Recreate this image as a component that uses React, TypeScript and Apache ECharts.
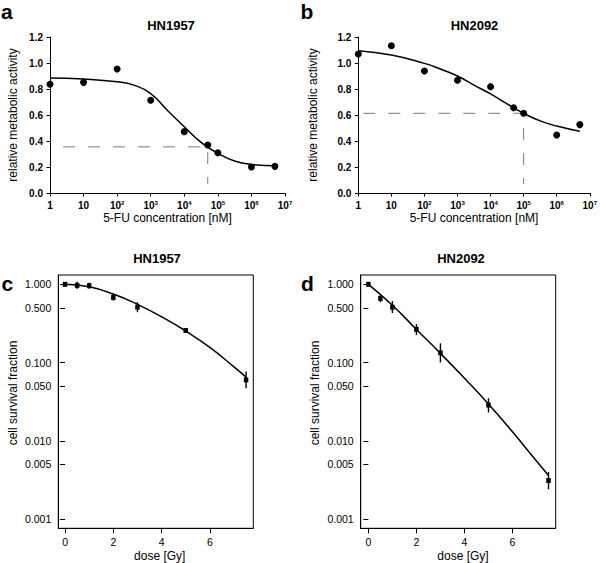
import React, { useEffect, useRef } from "react";
import * as echarts from "echarts";

// ---- data ----
const concentrations = [1, 10, 100, 1000, 10000, 50000, 100000, 1000000, 5000000];
const activityHN1957 = [0.836, 0.851, 0.954, 0.713, 0.472, 0.369, 0.31, 0.2, 0.205];
const activityHN2092 = [1.069, 1.133, 0.938, 0.867, 0.818, 0.656, 0.613, 0.446, 0.526];

const fitConc = [1, 10, 100, 316, 1000, 3160, 10000, 31600, 100000, 316000, 1000000, 5000000];
const fitHN1957 = [0.885, 0.877, 0.856, 0.83, 0.765, 0.635, 0.51, 0.39, 0.305, 0.246, 0.22, 0.21];
const fitHN2092 = [1.095, 1.062, 0.997, 0.952, 0.9, 0.83, 0.762, 0.685, 0.613, 0.555, 0.515, 0.475];

// IC guide lines: [conc, activity]
const icHN1957 = [50000, 0.355];
const icHN2092 = [100000, 0.613];
const guideBottom = 0.07;

const concTickExps = [0, 1, 2, 3, 4, 5, 6, 7];
const activityTicks = [0, 0.2, 0.4, 0.6, 0.8, 1.0, 1.2];

const doses = [0, 0.5, 1, 2, 3, 5, 7.5];
const survHN1957 = [1.0, 0.97, 0.96, 0.68, 0.51, 0.257, 0.06];
const lowHN1957 = [1.0, 0.88, 0.88, 0.62, 0.44, 0.243, 0.047];
const highHN1957 = [1.0, 1.08, 1.05, 0.75, 0.59, 0.272, 0.077];
const survHN2092 = [1.0, 0.66, 0.51, 0.265, 0.133, 0.0286, 0.0031];
const lowHN2092 = [1.0, 0.59, 0.43, 0.225, 0.1, 0.023, 0.0024];
const highHN2092 = [1.0, 0.74, 0.61, 0.31, 0.176, 0.035, 0.004];

const fitDose = [0, 1, 2, 3, 4, 5, 6, 7, 7.5];
const fitSurvHN1957 = [1.0, 0.93, 0.75, 0.555, 0.385, 0.253, 0.156, 0.088, 0.065];
const fitSurvHN2092 = [1.0, 0.54, 0.265, 0.131, 0.063, 0.0295, 0.013, 0.0055, 0.0036];

const survTicks = [1, 0.5, 0.1, 0.05, 0.01, 0.005, 0.001];
const doseTicks = [0, 2, 4, 6];

const FONT = "'Liberation Sans', Arial, Helvetica, sans-serif";
const SURV_MIN = 0.00076;
const SURV_MAX = 1.315;

function concLabel(v: number) {
  const e = Math.round(Math.log10(v));
  if (!concTickExps.includes(e)) return "";
  if (e === 0) return "1";
  if (e === 1) return "10";
  return "10{s|" + e + "}";
}

function topX(gridIndex: number) {
  return {
    type: "log",
    gridIndex,
    logBase: 10,
    min: 1,
    max: 1e7,
    interval: 1,
    name: "5-FU concentration [nM]",
    nameLocation: "middle",
    nameGap: 19,
    nameTextStyle: { fontSize: 12, color: "#000", fontFamily: FONT },
    axisLine: { show: true, onZero: false, lineStyle: { color: "#000", width: 1 } },
    axisTick: { show: true, length: 3.5, lineStyle: { color: "#000" } },
    axisLabel: {
      show: true,
      interval: 0,
      showMinLabel: true,
      showMaxLabel: true,
      margin: 7,
      fontSize: 10,
      fontWeight: "bold",
      color: "#000",
      fontFamily: FONT,
      formatter: (v: number) => concLabel(v),
      rich: { s: { fontSize: 6, fontWeight: "bold", color: "#000", verticalAlign: "top", fontFamily: FONT } },
    },
    splitLine: { show: false },
    minorTick: { show: false },
  };
}

function topY(gridIndex: number, nameGap: number) {
  return {
    type: "value",
    gridIndex,
    min: activityTicks[0],
    max: activityTicks[activityTicks.length - 1],
    interval: 0.2,
    name: "relative metabolic activity",
    nameLocation: "middle",
    nameGap,
    nameRotate: 90,
    nameTextStyle: { fontSize: 12, color: "#000", fontFamily: FONT },
    axisLine: { show: true, onZero: false, lineStyle: { color: "#000", width: 1 } },
    axisTick: { show: true, length: 3.5, lineStyle: { color: "#000" } },
    axisLabel: {
      margin: 7,
      fontSize: 10,
      fontWeight: "bold",
      color: "#000",
      fontFamily: FONT,
      formatter: (v: number) => v.toFixed(1),
    },
    splitLine: { show: false },
  };
}

function botX(gridIndex: number, min: number) {
  return {
    type: "value",
    gridIndex,
    min,
    max: 7.8,
    axisLine: { show: true, onZero: false, lineStyle: { color: "#000", width: 1 } },
    axisTick: { show: true, length: 5, customValues: doseTicks, lineStyle: { color: "#000" } },
    axisLabel: {
      customValues: doseTicks,
      margin: 8,
      fontSize: 10.5,
      color: "#000",
      fontFamily: FONT,
      formatter: (v: number) => String(v),
    },
    splitLine: { show: false },
  };
}

function botYLog(gridIndex: number) {
  return {
    type: "log",
    gridIndex,
    logBase: 10,
    min: SURV_MIN,
    max: SURV_MAX,
    position: "left",
    axisLine: { show: true, onZero: false, lineStyle: { color: "#000", width: 1 } },
    axisTick: { show: false },
    axisLabel: { show: false },
    splitLine: { show: false },
    minorTick: { show: false },
  };
}

function botYTicks(gridIndex: number) {
  const vals = survTicks.map((t) => Math.log10(t));
  return {
    type: "value",
    gridIndex,
    min: Math.log10(SURV_MIN),
    max: Math.log10(SURV_MAX),
    position: "left",
    axisLine: { show: false },
    axisTick: { show: true, length: 5, customValues: vals, lineStyle: { color: "#000" } },
    axisLabel: {
      customValues: vals,
      margin: 7,
      fontSize: 10.5,
      color: "#000",
      fontFamily: FONT,
      formatter: (v: number) => Math.pow(10, v).toFixed(3),
    },
    splitLine: { show: false },
  };
}

function errorSeries(xAxisIndex: number, yAxisIndex: number, surv: number[], low: number[], high: number[]) {
  return {
    type: "custom",
    xAxisIndex,
    yAxisIndex,
    encode: { x: 0, y: 1 },
    data: doses.map((d, i) => [d, surv[i], low[i], high[i]]),
    renderItem: (params: any, api: any) => {
      const x = api.value(0);
      const p1 = api.coord([x, api.value(2)]);
      const p2 = api.coord([x, api.value(3)]);
      return {
        type: "line",
        shape: { x1: p1[0], y1: p1[1], x2: p2[0], y2: p2[1] },
        style: { stroke: "#000", lineWidth: 1.4 },
      };
    },
    z: 3,
  };
}

function fitLine(xAxisIndex: number, yAxisIndex: number, xs: number[], ys: number[]) {
  return {
    type: "line",
    xAxisIndex,
    yAxisIndex,
    data: xs.map((x, i) => [x, ys[i]]),
    smooth: 0.5,
    showSymbol: false,
    lineStyle: { color: "#000", width: 1.5 },
    z: 2,
  };
}

function text(t: string, x: number, y: number, size: number, bold: boolean, align = "center", rotation = 0) {
  return {
    type: "text",
    x,
    y,
    rotation,
    style: {
      text: t,
      fontSize: size,
      fontWeight: bold ? "bold" : "normal",
      fontFamily: FONT,
      fill: "#000",
      align,
      verticalAlign: "middle",
    },
  };
}

export default function App() {
  const ref = useRef<HTMLDivElement>(null);
  useEffect(() => {
    document.body.style.margin = "0";
    const chart = echarts.init(ref.current!, undefined, { renderer: "svg" });
    const option: any = {
      animation: false,
      textStyle: { fontFamily: FONT },
      grid: [
        { left: 50, top: 37, width: 235, height: 156 },
        { left: 358.3, top: 37, width: 234.4, height: 156 },
        { left: 58.3, top: 275, width: 195, height: 253.3, show: true, borderColor: "#000", borderWidth: 1, backgroundColor: "transparent" },
        { left: 360.7, top: 275, width: 195, height: 253.3, show: true, borderColor: "#000", borderWidth: 1, backgroundColor: "transparent" },
      ],
      xAxis: [topX(0), topX(1), botX(2, -0.28), botX(3, -0.32)],
      yAxis: [topY(0, 31), topY(1, 39), botYLog(2), botYTicks(2), botYLog(3), botYTicks(3)],
      graphic: [
        text("a", 1, 11, 21, true, "left"),
        text("b", 300.5, 11, 21, true, "left"),
        text("c", 1.5, 283, 21, true, "left"),
        text("d", 301, 283, 21, true, "left"),
        text("HN1957", 171, 25.5, 13, true),
        text("HN2092", 474.5, 25.5, 13, true),
        text("HN1957", 157, 258.5, 13, true),
        text("HN2092", 461, 258.5, 13, true),
        text("cell survival fraction", 13, 393, 12, false, "center", Math.PI / 2),
        text("cell survival fraction", 315, 393, 12, false, "center", Math.PI / 2),
        text("dose [Gy]", 159.7, 556, 12, false),
        text("dose [Gy]", 463, 556, 12, false),
      ],
      series: [
        // panel a
        {
          type: "line",
          xAxisIndex: 0,
          yAxisIndex: 0,
          data: [[1, icHN1957[1]], [icHN1957[0], icHN1957[1]], [icHN1957[0], guideBottom]],
          showSymbol: false,
          lineStyle: { color: "#7a7a7a", width: 1, type: [12, 13], dashOffset: 12 },
          z: 1,
        },
        fitLine(0, 0, fitConc, fitHN1957),
        {
          type: "scatter",
          xAxisIndex: 0,
          yAxisIndex: 0,
          data: concentrations.map((c, i) => [c, activityHN1957[i]]),
          symbol: "circle",
          symbolSize: 7,
          itemStyle: { color: "#000", opacity: 1 },
          z: 3,
        },
        // panel b
        {
          type: "line",
          xAxisIndex: 1,
          yAxisIndex: 1,
          data: [[1, icHN2092[1]], [icHN2092[0], icHN2092[1]], [icHN2092[0], guideBottom]],
          showSymbol: false,
          lineStyle: { color: "#7a7a7a", width: 1, type: [12, 13], dashOffset: 20 },
          z: 1,
        },
        fitLine(1, 1, fitConc, fitHN2092),
        {
          type: "scatter",
          xAxisIndex: 1,
          yAxisIndex: 1,
          data: concentrations.map((c, i) => [c, activityHN2092[i]]),
          symbol: "circle",
          symbolSize: 7,
          itemStyle: { color: "#000", opacity: 1 },
          z: 3,
        },
        // panel c
        fitLine(2, 2, fitDose, fitSurvHN1957),
        errorSeries(2, 2, survHN1957, lowHN1957, highHN1957),
        {
          type: "scatter",
          xAxisIndex: 2,
          yAxisIndex: 2,
          data: doses.map((d, i) => [d, survHN1957[i]]),
          symbol: "rect",
          symbolSize: [4.5, 5],
          itemStyle: { color: "#000", opacity: 1 },
          z: 4,
        },
        // panel d
        fitLine(3, 4, fitDose, fitSurvHN2092),
        errorSeries(3, 4, survHN2092, lowHN2092, highHN2092),
        {
          type: "scatter",
          xAxisIndex: 3,
          yAxisIndex: 4,
          data: doses.map((d, i) => [d, survHN2092[i]]),
          symbol: "rect",
          symbolSize: [4.5, 5],
          itemStyle: { color: "#000", opacity: 1 },
          z: 4,
        },
      ],
    };
    chart.setOption(option);
    return () => chart.dispose();
  }, []);
  return (
    <div
      ref={ref}
      style={{ position: "absolute", left: 0, top: 0, width: 600, height: 563, background: "#fff" }}
    />
  );
}
